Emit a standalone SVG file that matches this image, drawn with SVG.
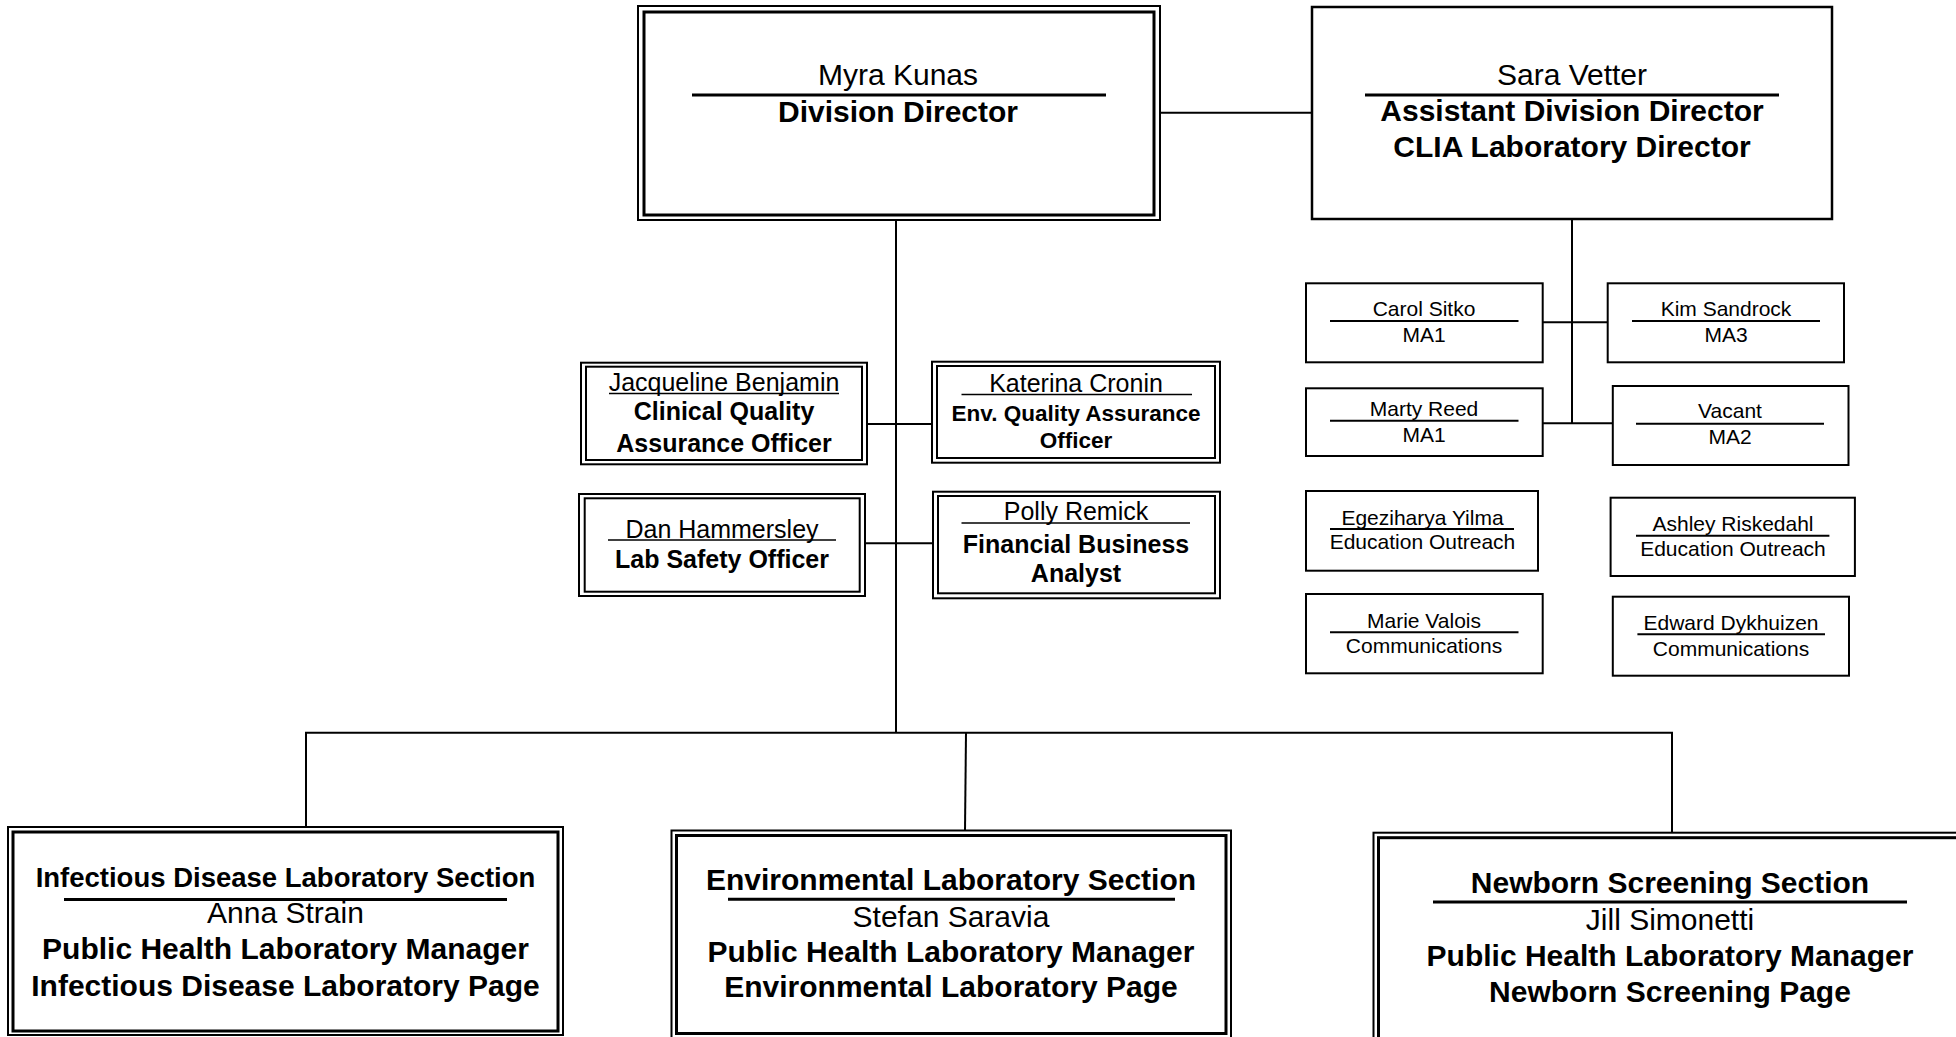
<svg xmlns="http://www.w3.org/2000/svg" width="1956" height="1037" viewBox="0 0 1956 1037">
<style>
text{font-family:"Liberation Sans",Arial,sans-serif;fill:#000;text-anchor:middle}
.b{font-weight:bold}
.f30{font-size:30px}.f28{font-size:27.5px}.f25{font-size:25px}.f22{font-size:22.5px}.f21{font-size:21px}
.c{stroke:#000;stroke-width:2;fill:none}
.o{stroke:#000;stroke-width:2;fill:#fff}
.i{stroke:#000;stroke-width:3;fill:none}
.s{stroke:#000;stroke-width:2.5;fill:#fff}
.u3{stroke:#000;stroke-width:3}
.u2{stroke:#000;stroke-width:2}
.u1{stroke:#000;stroke-width:1.6}
</style>
<rect width="1956" height="1037" fill="#fff"/>
<g id="connectors">
<line class="c" x1="1160" y1="112.7" x2="1312" y2="112.7"/>
<line class="c" x1="896" y1="220" x2="896" y2="733"/>
<line class="c" x1="867" y1="424" x2="932" y2="424"/>
<line class="c" x1="865" y1="543.3" x2="933" y2="543.3"/>
<line class="c" x1="1572" y1="219" x2="1572" y2="423.3"/>
<line class="c" x1="1543" y1="322.3" x2="1608" y2="322.3"/>
<line class="c" x1="1543" y1="423.3" x2="1613" y2="423.3"/>
<line class="c" x1="305" y1="732.7" x2="1673" y2="732.7"/>
<line class="c" x1="306" y1="732.7" x2="306" y2="827"/>
<line class="c" x1="966" y1="732.7" x2="965" y2="830.5"/>
<line class="c" x1="1672" y1="732.7" x2="1672" y2="832.7"/>
</g>
<g id="myra">
<rect class="o" x="638" y="6" width="522" height="214"/>
<rect class="i" x="644" y="12" width="510" height="203"/>
<text class="f30" x="898" y="85">Myra Kunas</text>
<line class="u3" x1="692" y1="95" x2="1106" y2="95"/>
<text class="f30 b" x="898" y="122">Division Director</text>
</g>
<g id="sara">
<rect class="s" x="1312" y="7" width="520" height="212"/>
<text class="f30" x="1572" y="85">Sara Vetter</text>
<line class="u3" x1="1365" y1="95" x2="1779" y2="95"/>
<text class="f30 b" x="1572" y="121">Assistant Division Director</text>
<text class="f30 b" x="1572" y="157">CLIA Laboratory Director</text>
</g>
<g id="jacqueline">
<rect class="o" x="581" y="362.7" width="286" height="101.6"/>
<rect class="u2" fill="none" x="586" y="366.7" width="276" height="93.3"/>
<text class="f25" x="724" y="391">Jacqueline Benjamin</text>
<line class="u1" x1="609" y1="393.5" x2="839" y2="393.5"/>
<text class="f25 b" x="724" y="420">Clinical Quality</text>
<text class="f25 b" x="724" y="451.5">Assurance Officer</text>
</g>
<g id="katerina">
<rect class="o" x="932" y="361.7" width="288" height="101"/>
<rect class="u2" fill="none" x="937" y="366" width="278" height="92"/>
<text class="f25" x="1076" y="392">Katerina Cronin</text>
<line class="u1" x1="961.5" y1="394.5" x2="1192" y2="394.5"/>
<text class="f22 b" x="1076" y="421">Env. Quality Assurance</text>
<text class="f22 b" x="1076" y="448">Officer</text>
</g>
<g id="dan">
<rect class="o" x="579" y="494" width="286" height="102"/>
<rect class="u2" fill="none" x="584.7" y="498.3" width="275" height="93.4"/>
<text class="f25" x="722" y="537.7">Dan Hammersley</text>
<line class="u1" x1="608" y1="540" x2="836" y2="540"/>
<text class="f25 b" x="722" y="567.5">Lab Safety Officer</text>
</g>
<g id="polly">
<rect class="o" x="933" y="491.7" width="287" height="106.6"/>
<rect class="u2" fill="none" x="938" y="496" width="277" height="97.3"/>
<text class="f25" x="1076" y="520">Polly Remick</text>
<line class="u1" x1="961.5" y1="523" x2="1190" y2="523"/>
<text class="f25 b" x="1076" y="552.5">Financial Business</text>
<text class="f25 b" x="1076" y="581.5">Analyst</text>
</g>
<g id="carol">
<rect class="o" x="1306" y="283.3" width="236.7" height="79"/>
<text class="f21" x="1424" y="315.7">Carol Sitko</text>
<line class="u2" x1="1330" y1="321" x2="1518.5" y2="321"/>
<text class="f21" x="1424" y="341.7">MA1</text>
</g>
<g id="kim">
<rect class="o" x="1607.7" y="283.3" width="236.3" height="79"/>
<text class="f21" x="1726" y="315.7">Kim Sandrock</text>
<line class="u2" x1="1632" y1="321" x2="1820" y2="321"/>
<text class="f21" x="1726" y="341.7">MA3</text>
</g>
<g id="marty">
<rect class="o" x="1306" y="388.3" width="236.7" height="67.7"/>
<text class="f21" x="1424" y="415.7">Marty Reed</text>
<line class="u2" x1="1330" y1="420.7" x2="1518.5" y2="420.7"/>
<text class="f21" x="1424" y="441.7">MA1</text>
</g>
<g id="vacant">
<rect class="o" x="1612.8" y="386" width="235.7" height="79"/>
<text class="f21" x="1730" y="418.3">Vacant</text>
<line class="u2" x1="1636" y1="423.7" x2="1824" y2="423.7"/>
<text class="f21" x="1730" y="444.3">MA2</text>
</g>
<g id="egeziharya">
<rect class="o" x="1306" y="491" width="232" height="79.7"/>
<text class="f21" x="1422.5" y="525">Egeziharya Yilma</text>
<line class="u2" x1="1330" y1="529" x2="1514" y2="529"/>
<text class="f21" x="1422.5" y="549.3">Education Outreach</text>
</g>
<g id="ashley">
<rect class="o" x="1610.6" y="497.7" width="244.3" height="78.3"/>
<text class="f21" x="1733" y="531">Ashley Riskedahl</text>
<line class="u2" x1="1636" y1="535.7" x2="1829.4" y2="535.7"/>
<text class="f21" x="1733" y="555.7">Education Outreach</text>
</g>
<g id="marie">
<rect class="o" x="1306" y="594" width="236.7" height="79.3"/>
<text class="f21" x="1424" y="627.7">Marie Valois</text>
<line class="u2" x1="1330" y1="632.3" x2="1518.5" y2="632.3"/>
<text class="f21" x="1424" y="653.3">Communications</text>
</g>
<g id="edward">
<rect class="o" x="1612.8" y="596.7" width="236.2" height="79"/>
<text class="f21" x="1731" y="630">Edward Dykhuizen</text>
<line class="u2" x1="1637.4" y1="634.3" x2="1825" y2="634.3"/>
<text class="f21" x="1731" y="655.7">Communications</text>
</g>
<g id="infectious">
<rect class="o" x="8" y="827" width="555" height="208"/>
<rect class="i" x="13" y="832" width="545" height="199"/>
<text class="f28 b" x="285.5" y="887">Infectious Disease Laboratory Section</text>
<line class="u3" x1="64" y1="899.5" x2="507" y2="899.5"/>
<text class="f30" x="285.5" y="923">Anna Strain</text>
<text class="f30 b" x="285.5" y="959">Public Health Laboratory Manager</text>
<text class="f30 b" x="285.5" y="995.5">Infectious Disease Laboratory Page</text>
</g>
<g id="environmental">
<rect class="o" x="671.5" y="830.5" width="559.5" height="210"/>
<rect class="i" x="676.5" y="835.5" width="549.5" height="198"/>
<text class="f30 b" x="951" y="890">Environmental Laboratory Section</text>
<line class="u3" x1="728" y1="899.3" x2="1175" y2="899.3"/>
<text class="f30" x="951" y="926.5">Stefan Saravia</text>
<text class="f30 b" x="951" y="962">Public Health Laboratory Manager</text>
<text class="f30 b" x="951" y="997">Environmental Laboratory Page</text>
</g>
<g id="newborn">
<rect class="o" x="1373.5" y="832.7" width="640" height="260"/>
<rect class="i" x="1378.5" y="837.7" width="630" height="250"/>
<text class="f30 b" x="1670" y="893.3">Newborn Screening Section</text>
<line class="u3" x1="1433" y1="902" x2="1907" y2="902"/>
<text class="f30" x="1670" y="930">Jill Simonetti</text>
<text class="f30 b" x="1670" y="966">Public Health Laboratory Manager</text>
<text class="f30 b" x="1670" y="1001.7">Newborn Screening Page</text>
</g>
</svg>
